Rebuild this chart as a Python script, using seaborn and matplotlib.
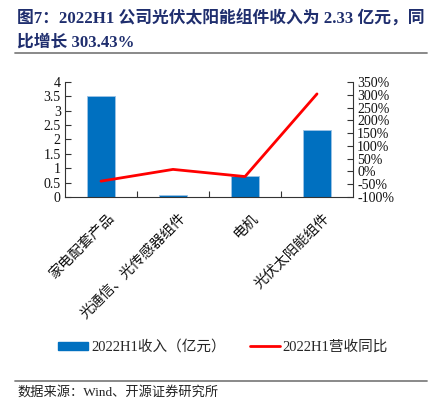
import numpy as np
import pandas as pd
import matplotlib
matplotlib.use("Agg")
import matplotlib.pyplot as plt
import seaborn as sns
from matplotlib.lines import Line2D
from matplotlib.patches import Patch

categories = ["家电配套产品", "光通信、光传感器组件", "电机", "光伏太阳能组件"]
revenue = [3.50, 0.07, 0.72, 2.33]
yoy = [-38.0, 8.0, -20.0, 303.43]
left_ticks = [0, 0.5, 1, 1.5, 2, 2.5, 3, 3.5, 4]
left_labels = ["0", "0.5", "1", "1.5", "2", "2.5", "3", "3.5", "4"]
right_ticks = [-100, -50, 0, 50, 100, 150, 200, 250, 300, 350]
right_labels = ["-100%", "-50%", "0%", "50%", "100%", "150%", "200%", "250%", "300%", "350%"]
bar_label = "2022H1收入（亿元）"
line_label = "2022H1营收同比"
title_lines = ["图7：2022H1 公司光伏太阳能组件收入为 2.33 亿元，同", "比增长 303.43%"]
source = "数据来源：Wind、开源证券研究所"

sns.set_theme(style="white")
plt.rcParams["font.family"] = ["Liberation Serif", "Noto Sans CJK SC", "DejaVu Sans"]
plt.rcParams["axes.unicode_minus"] = False

W, H = 437, 399
fig = plt.figure(figsize=(W / 100, H / 100), dpi=100)

def fx(x):
    return x / W

def fy(y):
    return 1 - y / H

ax_l, ax_r, ax_t, ax_b = 65, 353, 82, 197
ax = fig.add_axes([fx(ax_l), fy(ax_b), fx(ax_r - ax_l), (ax_b - ax_t) / H])

df = pd.DataFrame({"cat": categories, "rev": revenue, "yoy": yoy})
bar_color = "#0070C0"
sns.barplot(data=df, x="cat", y="rev", color=bar_color, width=0.4, ax=ax,
            saturation=1, edgecolor="#9DC3E6", linewidth=0.6)
ax.set_xlim(-0.5, 3.5)
ax.set_ylim(0, 4)
ax.set_yticks(left_ticks)
ax.set_yticklabels(left_labels, fontsize=10, family=["Liberation Serif"])
ax.set_xlabel("")
ax.set_ylabel("")

ax2 = ax.twinx()
sns.lineplot(x=np.arange(len(categories)), y=yoy, ax=ax2, color="#FF0000",
             linewidth=2, sort=False)
ax2.set_ylim(-100, 350)
ax2.set_yticks(right_ticks)
ax2.set_yticklabels(right_labels, fontsize=10, family=["Liberation Serif"])
ax2.set_xlim(-0.5, 3.5)
ax2.set_ylabel("")

ax.set_xticks(range(len(categories)))
ax.set_xticklabels([])
ax.tick_params(axis="x", which="major", length=0)
ax.set_xticks([0.5, 1.5, 2.5], minor=True)
ax.tick_params(axis="x", which="minor", direction="in", length=4, width=0.8, color="#333333", bottom=True)
ax.tick_params(axis="y", direction="in", length=4, width=0.8, color="#333333", left=True, pad=3, labelcolor="#111111")
ax2.tick_params(axis="y", direction="in", length=4, width=0.8, color="#333333", right=True, pad=3, labelcolor="#111111")

for a in (ax, ax2):
    a.spines["top"].set_visible(False)
    for s in ("left", "bottom", "right"):
        a.spines[s].set_color("#333333")
        a.spines[s].set_linewidth(0.8)
ax.spines["right"].set_visible(False)
ax2.spines["left"].set_visible(False)
ax2.spines["bottom"].set_visible(False)

cjk = ["Noto Sans CJK SC"]
for i, c in enumerate(categories):
    ax.annotate(c, xy=(i, 0), xycoords=("data", "axes fraction"), xytext=(4, -10),
                textcoords="offset points", rotation=45, ha="right", va="top",
                rotation_mode="anchor", fontsize=10.3, family=cjk, color="#111111")

# title
title_color = "#1F2E6E"
tfam = ["Liberation Serif", "Noto Sans CJK SC"]
fig.text(fx(17), fy(19), title_lines[0], fontsize=12.1, fontweight="bold", color=title_color,
         va="center", ha="left", family=tfam)
fig.text(fx(17), fy(43), title_lines[1], fontsize=12.1, fontweight="bold", color=title_color,
         va="center", ha="left", family=tfam)
fig.add_artist(Line2D([fx(15), fx(427)], [fy(53), fy(53)], color="#808080", linewidth=1.3))

# legend
handles = [Patch(facecolor=bar_color, edgecolor=bar_color), Line2D([0], [0], color="#FF0000", linewidth=2)]
leg = fig.legend(handles, [bar_label, line_label], loc="center", bbox_to_anchor=(fx(223), fy(347)),
                 ncol=2, frameon=False, handlelength=2.05, handleheight=0.45,
                 columnspacing=1.65, handletextpad=0.2,
                 prop={"family": ["Liberation Serif", "Noto Sans CJK SC"], "size": 10.5})

# source
fig.add_artist(Line2D([fx(15), fx(427)], [fy(381), fy(381)], color="#808080", linewidth=1.3))
fig.text(fx(17), fy(392), source, fontsize=9.5, color="#222222", va="center", ha="left",
         family=["Liberation Serif", "Noto Sans CJK SC"])

fig.savefig("out.png", dpi=100)
